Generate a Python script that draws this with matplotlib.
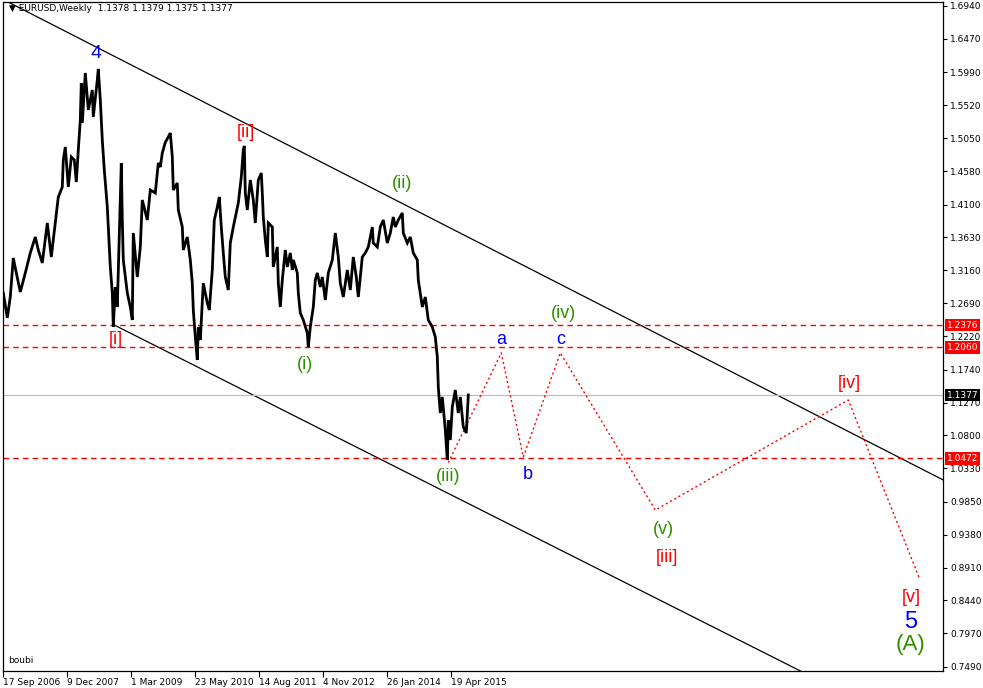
import matplotlib
matplotlib.use('Agg')
import matplotlib.pyplot as plt

# EURUSD weekly, turning points (x = week index from 17 Sep 2006)
priceBars = [0, 4, 7, 10, 13, 17, 22, 27, 32, 35, 39, 44, 48, 52, 55, 59, 60, 62, 65, 68,
             71, 73, 75, 77, 78, 79, 82, 85, 89, 90, 94, 95, 97, 99, 101, 104, 105, 107, 109, 110,
             112, 114, 118, 119, 120, 124, 127, 129, 130, 134, 137, 139, 144, 147, 152, 155, 157, 159, 162, 165,
             167, 169, 170, 174, 175, 179, 180, 184, 187, 189, 190, 192, 194, 195, 197, 200, 204, 206, 209, 211,
             214, 216, 218, 220, 222, 225, 227, 230, 235, 238, 240, 241, 242, 244, 247, 250, 252, 255, 258, 259,
             260, 262, 264, 265, 269, 270, 274, 275, 277, 279, 282, 284, 287, 289, 290, 294, 295, 297, 300, 304,
             305, 307, 310, 312, 314, 317, 319, 322, 325, 329, 332, 335, 337, 340, 344, 347, 350, 353, 355, 359,
             362, 365, 369, 370, 374, 377, 380, 384, 387, 390, 392, 395, 399, 400, 404, 407, 410, 414, 415, 419,
             422, 425, 429, 432, 434, 435, 437, 439, 442, 444, 445, 447, 449, 452, 455, 457, 460, 463, 465]
priceValues = [1.2837, 1.2480, 1.2780, 1.3337, 1.3123, 1.2851, 1.3123, 1.3409, 1.3637, 1.3451,
               1.3266, 1.3837, 1.3351, 1.3837, 1.4209, 1.4352, 1.4738, 1.4924, 1.4352, 1.4781,
               1.4738, 1.4423, 1.4881, 1.5310, 1.5839, 1.5267, 1.5982, 1.5453, 1.5739, 1.5353,
               1.5882, 1.6040, 1.5596, 1.5024, 1.4595, 1.4066, 1.3780, 1.3208, 1.2837, 1.2350,
               1.2922, 1.2636, 1.4695, 1.3880, 1.3308, 1.2837, 1.2636, 1.2450, 1.3694, 1.3065,
               1.3494, 1.4166, 1.3880, 1.4309, 1.4266, 1.4695, 1.4638, 1.4838, 1.4990, 1.5067,
               1.5124, 1.4781, 1.4309, 1.4409, 1.4023, 1.3780, 1.3451, 1.3637, 1.3308, 1.2977,
               1.2593, 1.2207, 1.1878, 1.2350, 1.2164, 1.2977, 1.2693, 1.2593, 1.3165, 1.3880,
               1.4066, 1.4209, 1.3780, 1.3409, 1.3065, 1.2879, 1.3551, 1.3780, 1.4123, 1.4495,
               1.4881, 1.4940, 1.4266, 1.4023, 1.4452, 1.4166, 1.3837, 1.4452, 1.4552, 1.4266,
               1.3923, 1.3594, 1.3351, 1.3837, 1.3780, 1.3208, 1.3494, 1.2977, 1.2636, 1.3022,
               1.3451, 1.3208, 1.3409, 1.3165, 1.3308, 1.3123, 1.2837, 1.2550, 1.2450, 1.2264,
               1.2064, 1.2350, 1.2636, 1.3022, 1.3123, 1.2922, 1.3065, 1.2736, 1.3123, 1.3308,
               1.3694, 1.3351, 1.2977, 1.2779, 1.3165, 1.2879, 1.3351, 1.3065, 1.2779, 1.3351,
               1.3409, 1.3494, 1.3780, 1.3551, 1.3494, 1.3780, 1.3880, 1.3551, 1.3694, 1.3923,
               1.3780, 1.3880, 1.3980, 1.3694, 1.3551, 1.3637, 1.3409, 1.3308, 1.3022, 1.2636,
               1.2779, 1.2450, 1.2350, 1.2207, 1.1921, 1.1492, 1.1120, 1.1349, 1.0877, 1.0448,
               1.1020, 1.0734, 1.1206, 1.1449, 1.1120, 1.1349, 1.0920, 1.0834, 1.1377]

# projected wave path (iii) -> a -> b -> c -> (v) -> [iv] -> [v]
projBars = [445, 498, 520, 557, 652, 845, 916]
projPrices = [1.0410, 1.1980, 1.0490, 1.1980, 0.9733, 1.1306, 0.8761]

# channel lines
upperBars = [0, 940]
upperPrices = [1.7032, 1.0162]
lowerBars = [111, 940]
lowerPrices = [1.2378, 0.6401]

levels = [1.2376, 1.2060, 1.0472]
lastPrice = 1.1377

priceTicks = [1.6940, 1.6470, 1.5990, 1.5520, 1.5050, 1.4580, 1.4100, 1.3630, 1.3160, 1.2690,
              1.2220, 1.1740, 1.1270, 1.0800, 1.0330, 0.9850, 0.9380, 0.8910, 0.8440, 0.7970, 0.7490]
dateBars = [0, 64, 128, 192, 256, 320, 384, 448]
dateLabels = ['17 Sep 2006', '9 Dec 2007', '1 Mar 2009', '23 May 2010', '14 Aug 2011',
              '4 Nov 2012', '26 Jan 2014', '19 Apr 2015']

BLUE = '#0000ff'
RED = '#ff0000'
GREEN = '#2f8f00'
waveLabels = [
    ('4', 93, 1.6254, BLUE, 14),
    ('[i]', 113, 1.2164, RED, 13),
    ('[ii]', 243, 1.5124, RED, 13),
    ('(i)', 302, 1.1807, GREEN, 13),
    ('(ii)', 399, 1.4395, GREEN, 13),
    ('(iii)', 445, 1.0219, GREEN, 13),
    ('a', 498, 1.2164, BLUE, 13),
    ('b', 524, 1.0234, BLUE, 13),
    ('c', 557, 1.2164, BLUE, 13),
    ('(iv)', 560, 1.2536, GREEN, 13),
    ('(v)', 660, 0.9461, GREEN, 13),
    ('[iii]', 664, 0.9047, RED, 13),
    ('[iv]', 846, 1.1549, RED, 13),
    ('[v]', 908, 0.8475, RED, 13),
    ('5', 907, 0.8131, BLUE, 17),
    ('(A)', 907, 0.7817, GREEN, 16),
]

fig = plt.figure(figsize=(9.83, 6.88), dpi=100)
ax = fig.add_axes([3 / 983, 17 / 688, 940 / 983, 669 / 688])
ax.set_xlim(-0.3, 939.7)
ax.set_ylim(0.7431, 1.6997)

ax.plot(upperBars, upperPrices, color='black', lw=0.9)
ax.plot(lowerBars, lowerPrices, color='black', lw=0.9)

for lv in levels:
    ax.axhline(lv, color=RED, lw=1, ls=(0, (4, 3)))
ax.axhline(lastPrice, color='#c8b8c0', lw=0.9)

ax.plot(projBars, projPrices, color=RED, lw=1, ls=(0, (1.5, 2)))
ax.plot(priceBars, priceValues, color='black', lw=2, solid_joinstyle='miter')

for txt, bx, py, col, fs in waveLabels:
    ax.text(bx, py, txt, color=col, fontsize=fs, family='Liberation Sans', ha='center', va='center')

ax.text(5, 0.7585, 'boubi', fontsize=6.5, color='black', ha='left', va='center')
ax.text(0.006, 0.991, '\u25bc EURUSD,Weekly  1.1378 1.1379 1.1375 1.1377', transform=ax.transAxes,
        fontsize=6.5, ha='left', va='center')

# price boxes on the right axis
for lv in levels:
    ax.annotate('%.4f' % lv, xy=(1, lv), xycoords=('axes fraction', 'data'), xytext=(2.5, 0),
                textcoords='offset points', ha='left', va='center', fontsize=6.5, color='white',
                bbox=dict(boxstyle='square,pad=0.2', fc=RED, ec='none'), annotation_clip=False)
ax.annotate('%.4f' % lastPrice, xy=(1, lastPrice), xycoords=('axes fraction', 'data'), xytext=(2.5, 0),
            textcoords='offset points', ha='left', va='center', fontsize=6.5, color='white',
            bbox=dict(boxstyle='square,pad=0.2', fc='black', ec='none'), annotation_clip=False)

ax.yaxis.tick_right()
ax.set_yticks(priceTicks)
ax.set_yticklabels(['%.4f' % t for t in priceTicks], fontsize=6.5)
ax.set_xticks(dateBars)
ax.set_xticklabels(dateLabels, fontsize=6.5, ha='left')
ax.tick_params(axis='y', length=3, width=0.8, pad=2)
ax.tick_params(axis='x', length=4, width=0.8, pad=1)
for s in ax.spines.values():
    s.set_linewidth(0.9)

fig.savefig('out.png', dpi=100)
